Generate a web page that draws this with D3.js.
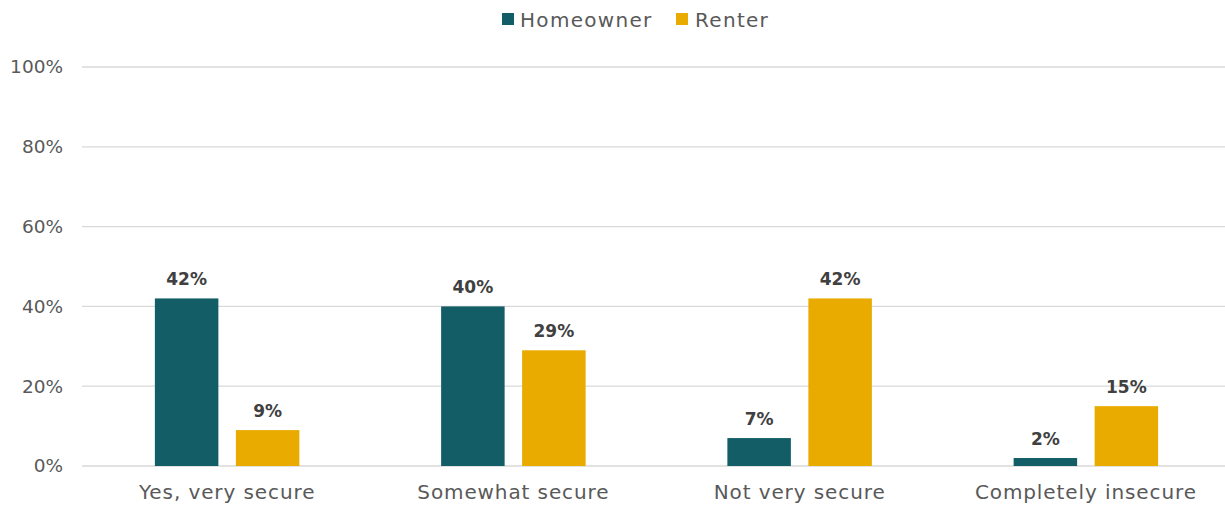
<!DOCTYPE html>
<html>
<head>
<meta charset="utf-8">
<script src="https://cdn.jsdelivr.net/npm/d3@7"></script>
<style>
  body { margin: 0; background: #fff; }
  svg { display: block; font-family: "DejaVu Sans", sans-serif; }
</style>
</head>
<body>
<svg id="chart" width="1225" height="506"></svg>
<script>
const categories = ["Yes, very secure", "Somewhat secure", "Not very secure", "Completely insecure"];
const seriesNames = ["Homeowner", "Renter"];
const homeowner = [42, 40, 7, 2];
const renter = [9, 29, 42, 15];
const yTicks = [0, 20, 40, 60, 80, 100];
const colors = ["#135E66", "#E9AB00"];

const svg = d3.select("#chart");
const W = 1225;

const x = d3.scaleBand().domain(categories).range([84, 1229]).paddingInner(0).paddingOuter(0);
const y = d3.scaleLinear().domain([0, 100]).range([466, 67]);

const barW = 63.5, gap = 17.5;
const x1 = d3.scaleOrdinal().domain(seriesNames).range([-(gap / 2 + barW), gap / 2]);

// gridlines
svg.append("g")
  .selectAll("line").data(yTicks).join("line")
  .attr("x1", 82).attr("x2", W)
  .attr("y1", d => y(d)).attr("y2", d => y(d))
  .attr("stroke", "#d9d9d9").attr("stroke-width", 1.3);

// y axis labels
const yAxis = d3.axisLeft(y).tickValues(yTicks).tickFormat(d => d + "%").tickSize(0).tickPadding(0);
const ya = svg.append("g").attr("transform", `translate(63,0)`).call(yAxis);
ya.select(".domain").remove();
ya.selectAll("text").attr("fill", "#595959").style("font-size", "18.5px").style("font-family", "DejaVu Sans");

// x axis labels
const xAxis = d3.axisBottom(x).tickSize(0).tickPadding(0);
const xa = svg.append("g").attr("transform", `translate(0,485)`).call(xAxis);
xa.select(".domain").remove();
xa.selectAll("text").attr("fill", "#595959").style("font-size", "20px")
  .style("letter-spacing", "0.9px").style("font-family", "DejaVu Sans");

const rows = categories.map((c, i) => ({ cat: c, values: [
  { key: "Homeowner", v: homeowner[i] },
  { key: "Renter", v: renter[i] }
]}));

const groups = svg.append("g").selectAll("g").data(rows).join("g")
  .attr("transform", d => `translate(${x(d.cat) + x.bandwidth() / 2},0)`);

groups.selectAll("rect").data(d => d.values).join("rect")
  .attr("x", d => x1(d.key))
  .attr("width", barW)
  .attr("y", d => y(d.v))
  .attr("height", d => y(0) - y(d.v))
  .attr("fill", (d, i) => colors[i]);

groups.selectAll("text").data(d => d.values).join("text")
  .attr("x", d => x1(d.key) + barW / 2)
  .attr("y", d => y(d.v) - 13)
  .attr("text-anchor", "middle")
  .attr("fill", "#404040")
  .style("font-size", "17px")
  .style("font-weight", "bold")
  .text(d => d.v + "%");

// legend
const legend = svg.append("g");
const legendItems = [
  { name: "Homeowner", sx: 502, tx: 520 },
  { name: "Renter", sx: 676, tx: 695 }
];
legendItems.forEach((d, i) => {
  legend.append("rect").attr("x", d.sx).attr("y", 13).attr("width", 12).attr("height", 12).attr("fill", colors[i]);
  legend.append("text").attr("x", d.tx).attr("y", 27).attr("fill", "#595959")
    .style("font-size", "20px").style("letter-spacing", "1.3px").text(d.name);
});
</script>
</body>
</html>
